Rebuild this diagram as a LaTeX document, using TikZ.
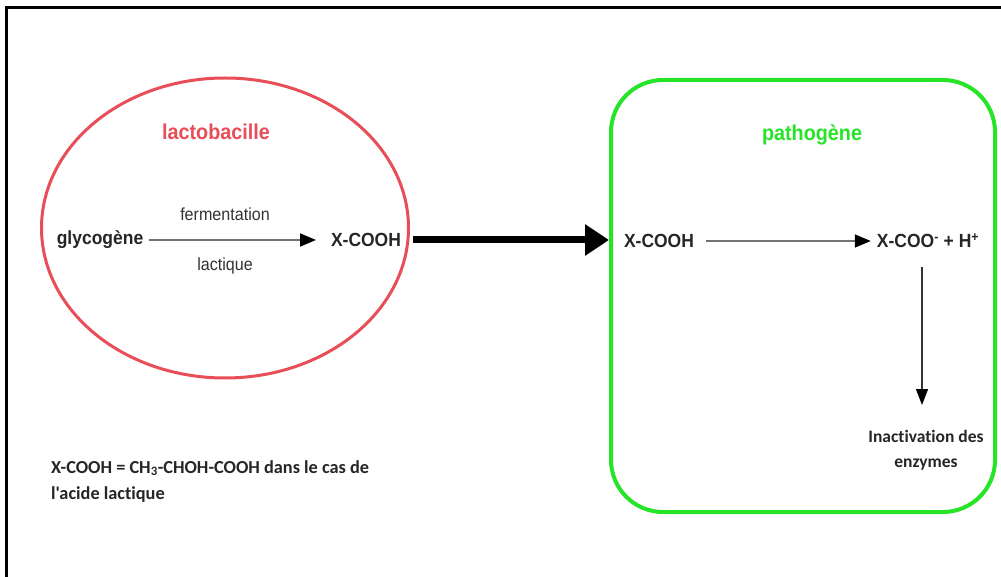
\documentclass[tikz,border=0pt]{standalone}
\usepackage{fontspec}
\setmainfont{Liberation Sans}[FakeStretch=0.92]
\newfontfamily\calib{Carlito}[Ligatures={NoCommon,NoRare,NoContextual}]
\usetikzlibrary{shapes.geometric,arrows.meta}
\definecolor{lacred}{RGB}{232,78,88}
\definecolor{patgreen}{RGB}{40,228,40}
\tikzset{
  lbl/.style={font=\fontsize{19}{22}\selectfont\bfseries, text=black!85, inner sep=2pt},
  sml/.style={font=\fontsize{17.5}{21}\selectfont, text=black!80, inner sep=2pt},
  ttl/.style={font=\fontsize{21.5}{25}\selectfont\bfseries, inner sep=2pt},
  cal/.style={font=\calib\fontsize{17.5}{25.5}\selectfont\bfseries, text=black!85, inner sep=1pt},
  legendtext/.style={font=\calib\fontsize{18.3}{26}\selectfont\bfseries, text=black!85, inner sep=1pt},
  thinarrow/.style={draw=black!55, line width=1.6pt, -{Triangle[length=16pt,width=13pt,color=black]}},
  downarrow/.style={draw=black!80, line width=1.3pt, -{Triangle[length=16pt,width=12pt,color=black]}},
  fatarrow/.style={draw=black, line width=7pt, -{Triangle[length=24pt,width=30pt]}}
}
\begin{document}
\begin{tikzpicture}[x=1pt,y=-1pt]
\useasboundingbox (0,0) rectangle (1001,577);
\fill[white] (0,0) rectangle (1001,577);
% frame (cropped)
\draw[line width=3pt, black] (6,578) -- (6,8) -- (1002,8);
% containers
\node[ellipse, draw=lacred, line width=3pt, minimum width=367pt, minimum height=300pt] (lacto) at (225,228) {};
\node[rectangle, draw=patgreen, line width=4pt, rounded corners=52pt, minimum width=384pt, minimum height=432pt] (patho) at (803,296) {};
% titles
\node[ttl, text=lacred] (tl) at (216,132) {lactobacille};
\node[ttl, text=patgreen] (tp) at (812,135) {pathogène};
% left content
\node[lbl] (gly) at (100,240) {glycogène};
\node[lbl] (xl) at (366,240) {X-COOH};
\node[sml] (ferm) at (225,214) {fermentation};
\node[sml] (lact) at (225,266) {lactique};
\draw[thinarrow] (gly.east) ++(4,0) -- (xl.west -| 316,0);
% right content
\node[lbl] (xr) at (659,241) {X-COOH};
\node[lbl] (xc) at (928,241) {X-COO\textsuperscript{-} + H\textsuperscript{+}};
\draw[thinarrow] (xr.east) ++(10,0) -- ([xshift=-4pt]xc.west);
\node[cal, align=center] (inact) at (926,450) {Inactivation des\\enzymes};
\coordinate (dtop) at (922,267);
\coordinate (dbot) at (922,405);
\draw[downarrow] (dtop) -- (dbot);
% fat arrow
\draw[fatarrow] ([xshift=10pt]xl.east) -- (xl.east -| patho.west);
% legend
\node[legendtext, align=left, anchor=north west] (legend) at (50,459) {X-COOH = CH\textsubscript{3}-CHOH-COOH dans le cas de\\l'acide lactique};
\end{tikzpicture}
\end{document}
